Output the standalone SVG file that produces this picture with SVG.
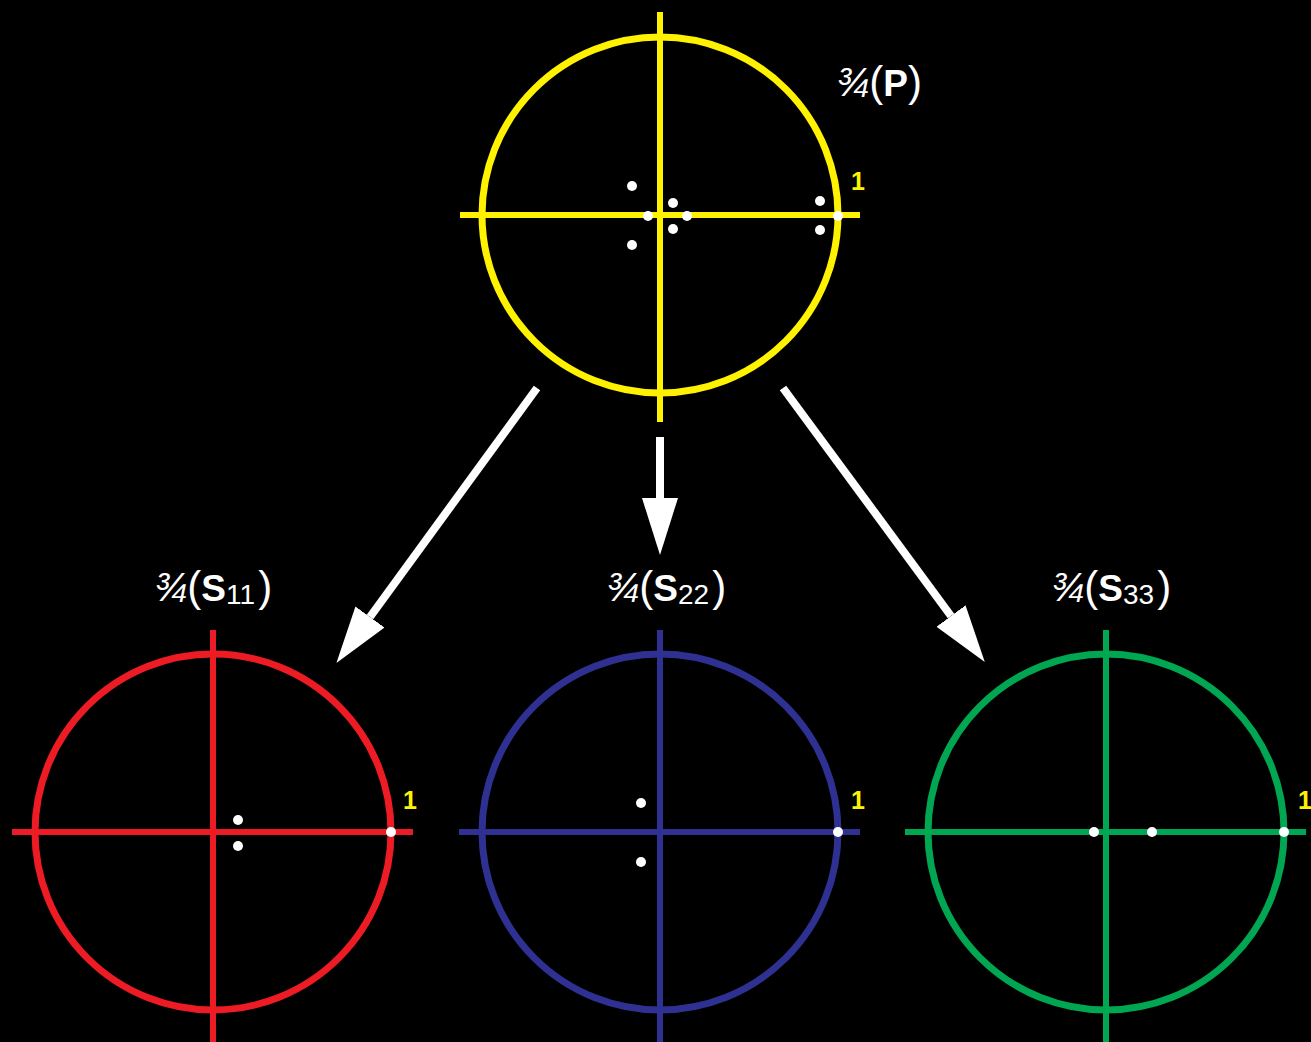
<svg xmlns="http://www.w3.org/2000/svg" width="1311" height="1042" viewBox="0 0 1311 1042">
<style>
.c{fill:none;stroke-width:7}
.ax{stroke-width:6}
.y{stroke:#FFF200}.r{stroke:#ED1C24}.b{stroke:#2E3192}.g{stroke:#00A651}
.dot{fill:#fff}
.one{font-family:"Liberation Sans",Arial,sans-serif;font-weight:bold;font-size:25px;fill:#FFF200}
.lbl{font-family:"Liberation Sans",Arial,sans-serif;font-size:42px;fill:#fff}
.fr{font-style:italic;font-size:40px}
.bd{font-weight:bold;font-size:37px}
.sub{font-size:28px}
.arr{stroke:#fff;stroke-width:8;fill:none}
</style>
<defs>
<marker id="ah" markerUnits="userSpaceOnUse" markerWidth="60" markerHeight="40" viewBox="0 -20 60 40" refX="0" refY="0" orient="auto">
<path d="M0,-18 L57,0 L0,18 z" fill="#fff"/>
</marker>
</defs>
<rect width="1311" height="1042" fill="#000"/>
<g id="nodeP">
<circle class="c y" cx="660" cy="215" r="178"/>
<line class="ax y" x1="460" y1="215" x2="860" y2="215"/>
<line class="ax y" x1="660" y1="12" x2="660" y2="422"/>
<circle class="dot" cx="632" cy="186" r="5"/>
<circle class="dot" cx="632" cy="245" r="5"/>
<circle class="dot" cx="673" cy="203" r="5"/>
<circle class="dot" cx="673" cy="229" r="5"/>
<circle class="dot" cx="648" cy="216" r="5"/>
<circle class="dot" cx="687" cy="216" r="5"/>
<circle class="dot" cx="820" cy="201" r="5"/>
<circle class="dot" cx="820" cy="230" r="5"/>
<circle class="dot" cx="838" cy="216" r="5"/>
<text class="one" x="851" y="190">1</text>
<text class="lbl" x="836" y="96"><tspan class="fr">¾</tspan>(<tspan class="bd">P</tspan>)</text>
</g>
<g id="nodeS11">
<circle class="c r" cx="213" cy="832" r="178"/>
<line class="ax r" x1="12" y1="832" x2="413" y2="832"/>
<line class="ax r" x1="213" y1="630" x2="213" y2="1042"/>
<circle class="dot" cx="238" cy="820" r="5"/>
<circle class="dot" cx="238" cy="846" r="5"/>
<circle class="dot" cx="391" cy="832" r="5"/>
<text class="one" x="403" y="809">1</text>
<text class="lbl" x="154" y="601"><tspan class="fr">¾</tspan>(<tspan class="bd">S</tspan><tspan class="sub" dy="3">11</tspan><tspan dx="3" dy="-3">)</tspan></text>
</g>
<g id="nodeS22">
<circle class="c b" cx="660" cy="832" r="178"/>
<line class="ax b" x1="459" y1="832" x2="860" y2="832"/>
<line class="ax b" x1="660" y1="630" x2="660" y2="1042"/>
<circle class="dot" cx="641" cy="803" r="5"/>
<circle class="dot" cx="641" cy="862" r="5"/>
<circle class="dot" cx="838" cy="832" r="5"/>
<text class="one" x="851" y="809">1</text>
<text class="lbl" x="606" y="601"><tspan class="fr">¾</tspan>(<tspan class="bd">S</tspan><tspan class="sub" dy="3">22</tspan><tspan dx="3" dy="-3">)</tspan></text>
</g>
<g id="nodeS33">
<circle class="c g" cx="1106" cy="832" r="178"/>
<line class="ax g" x1="905" y1="832" x2="1306" y2="832"/>
<line class="ax g" x1="1106" y1="630" x2="1106" y2="1042"/>
<circle class="dot" cx="1094" cy="832" r="5"/>
<circle class="dot" cx="1152" cy="832" r="5"/>
<circle class="dot" cx="1284" cy="832" r="5"/>
<text class="one" x="1298" y="809">1</text>
<text class="lbl" x="1051" y="601"><tspan class="fr">¾</tspan>(<tspan class="bd">S</tspan><tspan class="sub" dy="3">33</tspan><tspan dx="3" dy="-3">)</tspan></text>
</g>
<g id="connectors">
<line class="arr" x1="537" y1="388" x2="370" y2="617" marker-end="url(#ah)"/>
<line class="arr" x1="660" y1="437" x2="660" y2="498" marker-end="url(#ah)"/>
<line class="arr" x1="783" y1="388" x2="951" y2="616" marker-end="url(#ah)"/>
</g>
</svg>
